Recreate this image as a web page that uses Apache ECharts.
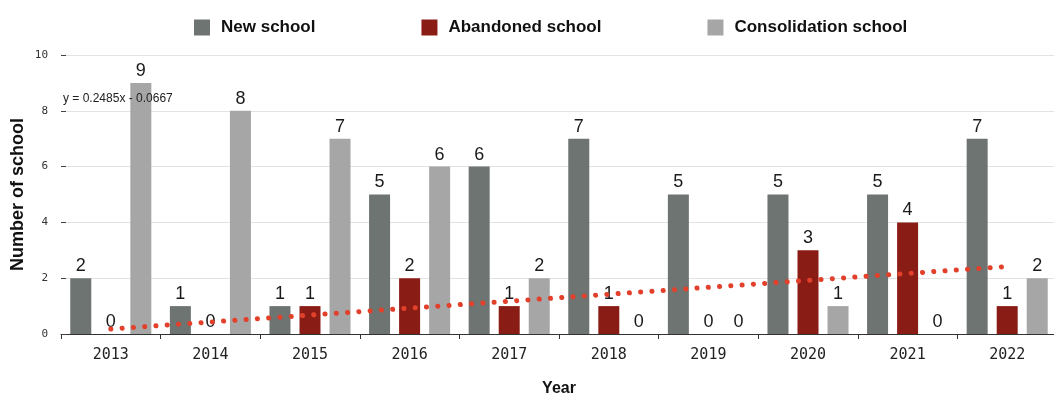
<!DOCTYPE html>
<html>
<head>
<meta charset="utf-8">
<script src="https://cdn.jsdelivr.net/npm/echarts@6/dist/echarts.min.js"></script>
<style>
html,body{margin:0;padding:0;background:#fff;}
#chart{width:1054px;height:396px;}
</style>
</head>
<body>
<div id="chart"></div>
<script>
const years = ['2013','2014','2015','2016','2017','2018','2019','2020','2021','2022'];
const newSchool = [2,1,1,5,6,7,5,5,5,7];
const abandonedSchool = [0,0,1,2,1,1,0,3,4,1];
const consolidationSchool = [9,8,7,6,2,0,0,1,0,2];
const yTicks = [0,2,4,6,8,10];
const trendStart = 0.18;
const trendEnd = 2.42;
const trendLabel = 'y = 0.2485x - 0.0667';

const trendData = years.map((y, i) => i === 0 ? trendStart : (i === years.length - 1 ? trendEnd : null));

const chart = echarts.init(document.getElementById('chart'), null, {renderer: 'canvas'});
const labelStyle = {show: true, position: 'top', distance: 3, fontSize: 18, fontFamily: 'Liberation Sans', color: '#1a1a1a'};
chart.setOption({
  animation: false,
  backgroundColor: '#fff',
  legend: {
    left: 189, top: 14,
    itemWidth: 16, itemHeight: 16, itemGap: 106,
    icon: 'rect',
    data: ['New school', 'Abandoned school', 'Consolidation school'],
    textStyle: {fontSize: 17, fontWeight: 'bold', fontFamily: 'Liberation Sans', color: '#111', padding: [0,0,0,6]}
  },
  grid: {left: 61, top: 55, width: 996, height: 279, containLabel: false, outerBoundsMode: 'none'},
  xAxis: {
    type: 'category', data: years,
    axisLine: {show: true, lineStyle: {color: '#333', width: 1}},
    axisTick: {show: true, length: 5, lineStyle: {color: '#333'}},
    axisLabel: {margin: 14, fontSize: 15, fontFamily: 'DejaVu Sans Mono', color: '#222'},
    name: 'Year', nameLocation: 'middle', nameGap: 47, nameMoveOverlap: false,
    nameTextStyle: {fontSize: 16, fontWeight: 'bold', fontFamily: 'Liberation Sans', color: '#111'}
  },
  yAxis: {
    type: 'value', min: yTicks[0], max: yTicks[yTicks.length-1], interval: 2,
    axisLine: {show: false},
    axisTick: {show: true, inside: true, length: 5, lineStyle: {color: '#444'}},
    axisLabel: {margin: 13, fontSize: 11, fontFamily: 'DejaVu Sans Mono', color: '#333'},
    splitLine: {show: true, lineStyle: {color: '#e3e3e3', width: 1}},
    name: 'Number of school', nameLocation: 'middle', nameGap: 34, nameMoveOverlap: false,
    nameTextStyle: {fontSize: 18, fontWeight: 'bold', fontFamily: 'Liberation Sans', color: '#111'}
  },
  graphic: [{
    type: 'text', left: 63, top: 93, z: 100,
    style: {text: trendLabel, font: '12px "Liberation Sans"', fill: '#222'}
  }],
  series: [
    {name: 'New school', type: 'bar', data: newSchool, barWidth: 21, barGap: '43%',
     itemStyle: {color: '#6d7471'}, label: labelStyle},
    {name: 'Abandoned school', type: 'bar', data: abandonedSchool, barWidth: 21, barGap: '43%',
     itemStyle: {color: '#8a1c16'}, label: labelStyle},
    {name: 'Consolidation school', type: 'bar', data: consolidationSchool, barWidth: 21, barGap: '43%',
     itemStyle: {color: '#a6a6a6'}, label: labelStyle},
    {name: 'Trend', type: 'line', data: trendData, connectNulls: true, symbol: 'none', z: 10,
     silent: true,
     lineStyle: {color: '#e2402b', width: 5, type: [0.1, 11.2], cap: 'round'}}
  ]
});
</script>
</body>
</html>
